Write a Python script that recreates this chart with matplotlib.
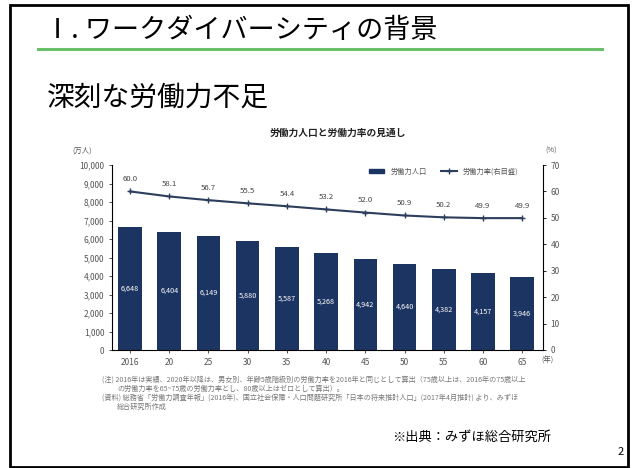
import matplotlib
matplotlib.use("Agg")
import matplotlib.pyplot as plt
from matplotlib.patches import Rectangle
from matplotlib.lines import Line2D
from matplotlib.patches import Patch

plt.rcParams['font.family'] = ['Noto Sans CJK JP', 'DejaVu Sans']

years = ["2016", "20", "25", "30", "35", "40", "45", "50", "55", "60", "65"]
labor_pop = [6648, 6404, 6149, 5880, 5587, 5268, 4942, 4640, 4382, 4157, 3946]
labor_rate = [60.0, 58.1, 56.7, 55.5, 54.4, 53.2, 52.0, 50.9, 50.2, 49.9, 49.9]
left_ticks = [0, 1000, 2000, 3000, 4000, 5000, 6000, 7000, 8000, 9000, 10000]
right_ticks = [0, 10, 20, 30, 40, 50, 60, 70]

W, H = 634, 468
fig = plt.figure(figsize=(W / 100, H / 100), dpi=100)

def fx(x):
    return x / W

def fy(y):
    return 1 - y / H

# slide frame
fig.patches.append(Rectangle((fx(10), fy(467)), fx(628) - fx(10), fy(5) - fy(467),
                             transform=fig.transFigure, fill=False, ec='black', lw=2))
# green rule
fig.add_artist(Line2D([fx(38), fx(602)], [fy(49), fy(49)], transform=fig.transFigure,
                      color='#6abf69', lw=2.2))

fig.text(fx(44), fy(30), "Ⅰ. ワークダイバーシティの背景", fontsize=19.5, va='center', ha='left', color='black')
fig.text(fx(47), fy(98), "深刻な労働力不足", fontsize=20, va='center', ha='left', color='black')

navy = '#1c3461'
ax = fig.add_axes([fx(112), fy(350), fx(543) - fx(112), fy(165) - fy(350)])
x = list(range(len(years)))
ax.bar(x, labor_pop, width=0.6, color=navy, zorder=2)
for xi, v in zip(x, labor_pop):
    ax.text(xi, v / 2, f"{v:,}", color='white', fontsize=5.2, ha='center', va='center', zorder=3)
ax.set_xlim(-0.46, 10.53)
ax.set_ylim(0, 10000)
ax.set_yticks(left_ticks)
ax.set_yticklabels([f"{t:,}" for t in left_ticks])
ax.set_xticks(x)
ax.set_xticklabels(years)
ax.tick_params(axis='both', labelsize=6, colors='#333333', length=2, width=0.6, labelcolor='#555555')
for s in ['top', 'right']:
    ax.spines[s].set_visible(False)
ax.spines['left'].set_linewidth(0.8)
ax.spines['bottom'].set_linewidth(0.8)
ax.text(10.5, -330, "(年)", fontsize=5.3, ha='left', va='top', color='#555555')

ax2 = ax.twinx()
ax2.set_ylim(0, 70)
ax2.set_yticks(right_ticks)
ax2.plot(x, labor_rate, color='#2c3e5c', lw=1.5, marker='+', markersize=4, mew=1.0, zorder=4)
for xi, v in zip(x, labor_rate):
    ax2.text(xi, v + 3.2, f"{v:.1f}", fontsize=5.6, ha='center', va='bottom', color='#444444')
for s in ['top', 'left', 'bottom']:
    ax2.spines[s].set_visible(False)
ax2.spines['right'].set_linewidth(0.8)
ax2.tick_params(axis='y', labelsize=6, length=2, width=0.6, labelcolor='#555555')

handles = [Patch(color=navy), Line2D([], [], color='#2c3e5c', lw=1.5, marker='+', markersize=4)]
ax.legend(handles, ["労働力人口", "労働力率(右目盛)"], loc='upper left',
          bbox_to_anchor=((362 - 112) / (543 - 112), 1.02), ncol=2, frameon=False,
          fontsize=5.2, handlelength=2.2, handleheight=0.5, columnspacing=2.0, labelcolor='#555555')

fig.text(fx(338), fy(133), "労働力人口と労働力率の見通し", fontsize=7, fontweight='bold',
         ha='center', va='center', color='#222222')
fig.text(fx(72), fy(151), "(万人)", fontsize=5.3, ha='left', va='center', color='#555555')
fig.text(fx(545), fy(151), "(%)", fontsize=5.3, ha='left', va='center', color='#555555')

note_c = '#777777'
fs_note = 5.1
fig.text(fx(102), fy(380), "(注) 2016年は実績、2020年以降は、男女別、年齢5歳階級別の労働力率を2016年と同じとして算出（75歳以上は、2016年の75歳以上",
         fontsize=fs_note, ha='left', va='center', color=note_c)
fig.text(fx(117), fy(389), "の労働力率を65~75歳の労働力率とし、80歳以上はゼロとして算出）。",
         fontsize=fs_note, ha='left', va='center', color=note_c)
fig.text(fx(102), fy(398), "(資料) 総務省「労働力調査年報」(2016年)、国立社会保障・人口問題研究所「日本の将来推計人口」(2017年4月推計) より、みずほ",
         fontsize=fs_note, ha='left', va='center', color=note_c)
fig.text(fx(117), fy(407), "総合研究所作成",
         fontsize=fs_note, ha='left', va='center', color=note_c)

fig.text(fx(392), fy(437), "※出典：みずほ総合研究所", fontsize=9.5, ha='left', va='center', color='black')
fig.text(fx(621), fy(452), "2", fontsize=8, ha='center', va='center', color='black')

fig.savefig("out.png", dpi=100)
